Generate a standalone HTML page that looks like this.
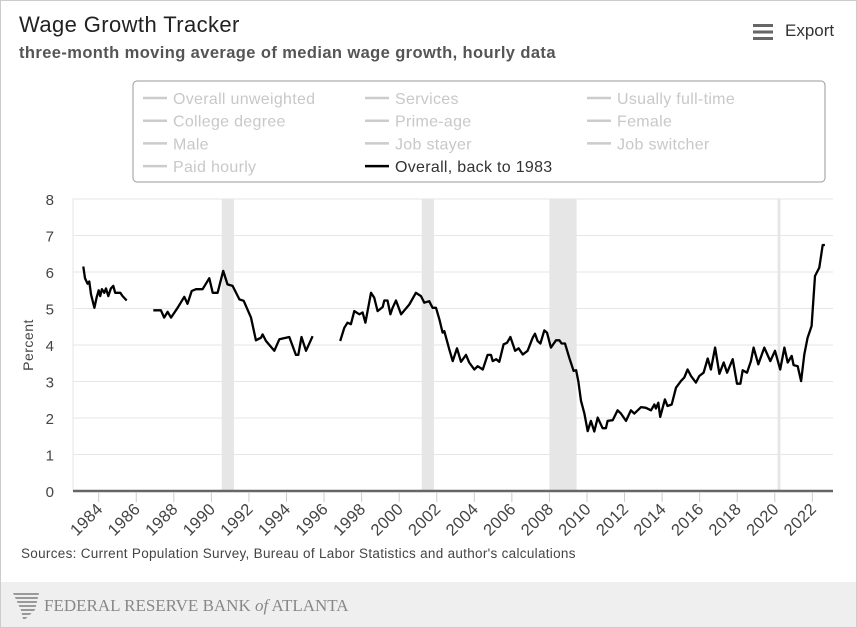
<!DOCTYPE html>
<html><head><meta charset="utf-8"><style>
body{margin:0;background:#fff;font-family:"Liberation Sans",sans-serif;}
#wrap{position:relative;width:855px;height:626px;border:1px solid #ccc;overflow:hidden;background:#fff}
.t{position:absolute;white-space:nowrap}
</style></head><body>
<div id="wrap">
<div class="t" style="left:18px;top:11px;font-size:22px;letter-spacing:0.4px;color:#222">Wage Growth Tracker</div>
<div class="t" style="left:18px;top:43px;font-size:16.5px;letter-spacing:0.4px;color:#555;font-weight:bold">three-month moving average of median wage growth, hourly data</div>
<div class="t" style="left:752px;top:20px;font-size:17px;color:#333">
<span style="display:inline-block;vertical-align:middle;width:20px;height:16px;margin-right:12px;background:linear-gradient(#666 0 3px,transparent 3px 6.5px,#666 6.5px 9.5px,transparent 9.5px 13px,#666 13px 16px)"></span>Export</div>
<svg id="svg" width="857" height="628" style="position:absolute;left:0;top:0"></svg>
<div class="t" style="left:20px;top:545px;font-size:13.5px;letter-spacing:0.3px;color:#444">Sources: Current Population Survey, Bureau of Labor Statistics and author's calculations</div>
<div style="position:absolute;left:0;top:581px;width:857px;height:46px;background:#efefef"></div>
<div class="t" style="left:12px;top:592px;width:26px;height:28px;background:repeating-linear-gradient(#999 0 2px,transparent 2px 4px);clip-path:polygon(0 0,100% 0,85% 60%,40% 100%,30% 60%)"></div>
<div class="t" style="left:43px;top:595px;font-family:'Liberation Serif',serif;font-size:17px;color:#888">FEDERAL RESERVE BANK <i>of</i> ATLANTA</div>
</div>
<script>
const yTicks=[0,1,2,3,4,5,6,7,8];
const xTicks=[1984,1986,1988,1990,1992,1994,1996,1998,2000,2002,2004,2006,2008,2010,2012,2014,2016,2018,2020,2022];
const recessionStart=[1990.55,2001.2,2008.0,2020.15];
const recessionEnd=[1991.2,2001.85,2009.45,2020.3];
const legendLabels=["Overall unweighted","Services","Usually full-time","College degree","Prime-age","Female","Male","Job stayer","Job switcher","Paid hourly","Overall, back to 1983"];
const years=[1983.18,1983.27,1983.41,1983.5,1983.59,1983.77,1983.89,1984.0,1984.08,1984.17,1984.3,1984.39,1984.51,1984.65,1984.78,1984.88,1985.15,1985.27,1985.49,1986.2,
1986.91,1987.31,1987.49,1987.67,1987.85,1988.2,1988.56,1988.73,1988.95,1989.18,1989.53,1989.89,1990.07,1990.33,1990.63,1990.86,1991.13,1991.49,1991.72,1992.11,1992.37,1992.64,1992.73,1992.91,1993.35,1993.62,1994.15,1994.5,1994.63,1994.8,1995.04,1995.39,1996.2,
1996.86,1997.08,1997.25,1997.43,1997.61,1997.88,1998.05,1998.2,1998.5,1998.67,1998.85,1999.12,1999.21,1999.38,1999.53,1999.65,1999.83,2000.1,2000.54,2000.89,2001.16,2001.34,2001.6,2001.78,2001.96,2002.14,2002.31,2002.4,2002.67,2002.85,2003.08,2003.29,2003.56,2003.73,2004.0,2004.18,2004.45,2004.71,2004.89,2004.98,2005.16,2005.33,2005.56,2005.74,2005.92,2006.17,2006.36,2006.58,2006.84,2007.11,2007.23,2007.37,2007.52,2007.73,2007.87,2008.08,2008.35,2008.53,2008.65,2008.83,2009.06,2009.29,2009.42,2009.54,2009.68,2009.86,2010.04,2010.21,2010.39,2010.57,2010.83,2011.01,2011.1,2011.37,2011.63,2011.81,2012.08,2012.34,2012.52,2012.88,2013.14,2013.41,2013.59,2013.67,2013.8,2013.9,2014.15,2014.29,2014.51,2014.74,2015.0,2015.18,2015.36,2015.54,2015.8,2015.98,2016.21,2016.43,2016.6,2016.82,2017.05,2017.28,2017.46,2017.76,2017.99,2018.17,2018.29,2018.52,2018.73,2018.87,2019.12,2019.44,2019.76,2020.01,2020.29,2020.51,2020.69,2020.9,2021.0,2021.22,2021.4,2021.57,2021.75,2021.96,2022.14,2022.37,2022.55,2022.67];
const values=[6.15,5.83,5.68,5.74,5.39,5.02,5.3,5.5,5.34,5.53,5.43,5.55,5.34,5.55,5.62,5.43,5.43,5.34,5.22,null,
4.95,4.95,4.75,4.91,4.75,5.02,5.32,5.13,5.48,5.53,5.53,5.83,5.43,5.43,6.03,5.66,5.62,5.25,5.21,4.75,4.13,4.2,4.29,4.11,3.84,4.16,4.22,3.73,3.73,4.22,3.84,4.24,null,
4.11,4.47,4.61,4.57,4.93,4.84,4.89,4.61,5.43,5.3,4.93,5.04,5.22,5.22,4.84,5.02,5.22,4.84,5.11,5.43,5.34,5.16,5.2,5.02,5.02,4.7,4.34,4.38,3.88,3.56,3.91,3.54,3.73,3.52,3.33,3.42,3.33,3.73,3.73,3.56,3.61,3.54,4.02,4.06,4.22,3.84,3.91,3.74,3.84,4.2,4.31,4.11,4.04,4.4,4.34,3.93,4.13,4.13,4.04,4.04,3.65,3.29,3.31,3.01,2.47,2.12,1.64,1.92,1.63,2.01,1.72,1.72,1.92,1.94,2.21,2.12,1.92,2.21,2.12,2.3,2.28,2.21,2.37,2.26,2.42,2.03,2.51,2.33,2.37,2.83,3.01,3.11,3.33,3.15,2.97,3.15,3.24,3.63,3.33,3.93,3.21,3.52,3.24,3.61,2.94,2.94,3.31,3.24,3.56,3.93,3.47,3.93,3.56,3.84,3.33,3.93,3.52,3.7,3.45,3.42,3.01,3.74,4.2,4.52,5.89,6.12,6.74,6.74];
const NS="http://www.w3.org/2000/svg";
const svg=document.getElementById('svg');
const X=y=>97.7+(y-1984)*18.78;
const Y=v=>490-v*36.5;
const L=72,R=832;
function mk(tag,attrs,parent){const e=document.createElementNS(NS,tag);for(const k in attrs)e.setAttribute(k,attrs[k]);(parent||svg).appendChild(e);return e;}
const lb=mk('rect',{x:132,y:80,width:692,height:101,rx:4,fill:'#fff',stroke:'#999'});


legendLabels.forEach((lab,i)=>{
  const col=i%3,row=Math.floor(i/3);
  const x=142+col*222,y=97+row*22.7;
  const last=i===legendLabels.length-1;
  const g=mk('g',{});
  
  
  mk('line',{x1:x,x2:x+24,y1:y,y2:y,stroke:last?'#000':'#ccc','stroke-width':2.5},g);
  const t=mk('text',{x:x+30,y:y+6,'font-size':16,'letter-spacing':0.3,fill:last?'#333':'#c8c8c8','font-family':'Liberation Sans, sans-serif'},g);
  t.textContent=lab;
});
recessionStart.forEach((s,i)=>{
  const r=mk('rect',{x:X(s),y:198,width:Math.max(2,X(recessionEnd[i])-X(s)),height:292,fill:'#e6e6e6'});
  
  
});
yTicks.forEach(v=>{
  const gl=mk('line',{x1:L,x2:R,y1:Y(v),y2:Y(v),stroke:'#e6e6e6','stroke-width':1});
  
  
  const t=mk('text',{x:53,y:Y(v)+6,'text-anchor':'end','font-size':15,fill:'#444','font-family':'Liberation Sans, sans-serif'});
  
  
  t.textContent=v;
});
mk('line',{x1:L,x2:L,y1:198,y2:490,stroke:'#e6e6e6'});
const yt=mk('text',{x:0,y:0,transform:'translate(32,344) rotate(-90)','text-anchor':'middle','font-size':14,'letter-spacing':0.5,fill:'#444','font-family':'Liberation Sans, sans-serif'});


yt.textContent='Percent';
const ax=mk('line',{x1:L,x2:R,y1:490,y2:490,stroke:'#666','stroke-width':2.5});


xTicks.forEach(yr=>{
  const x=X(yr);
  mk('line',{x1:x,x2:x,y1:491,y2:501,stroke:'#ccc'});
  const t=mk('text',{x:0,y:0,transform:`translate(${x+5},${509}) rotate(-45)`,'text-anchor':'end','font-size':16.5,'letter-spacing':0.3,fill:'#444','font-family':'Liberation Sans, sans-serif'});
  
  
  t.textContent=yr;
});
let d='',pen=false;
years.forEach((yr,i)=>{const v=values[i];if(v===null){pen=false;return;}d+=(pen?'L':'M')+X(yr).toFixed(1)+','+Y(v).toFixed(1);pen=true;});
const p=mk('path',{d:d,fill:'none',stroke:'#000','stroke-width':2.3,'stroke-linejoin':'round'});


</script>
</body></html>
